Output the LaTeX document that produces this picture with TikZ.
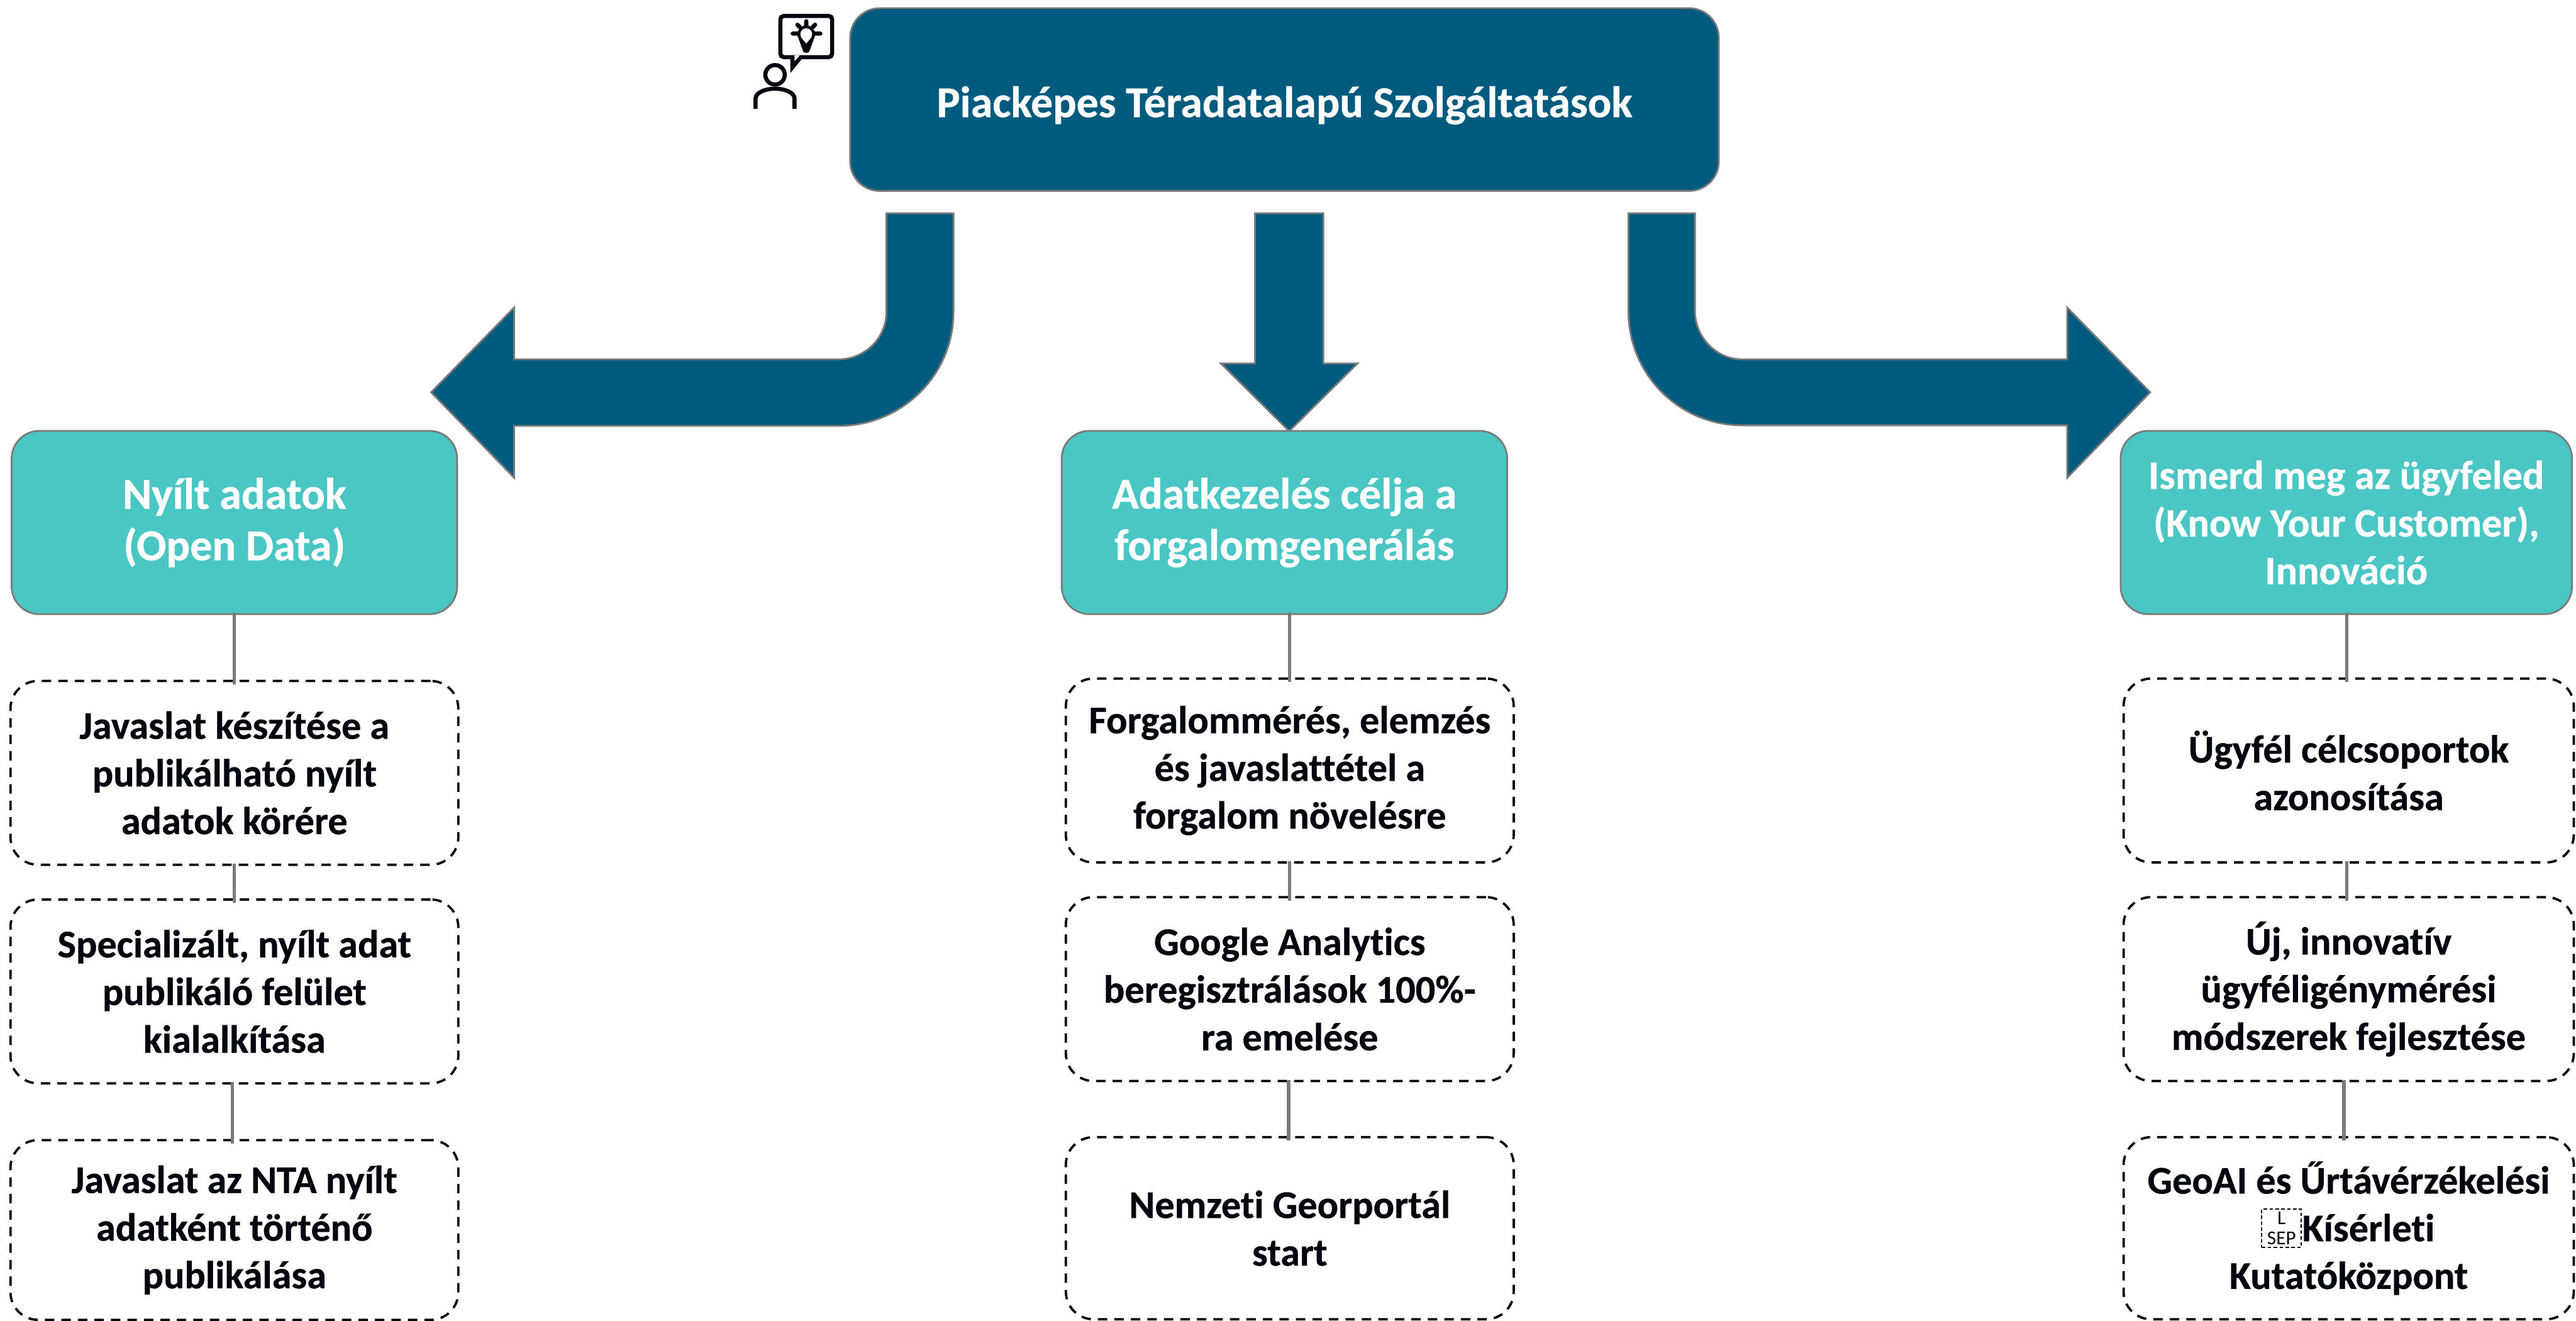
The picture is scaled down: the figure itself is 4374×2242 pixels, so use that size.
\documentclass[tikz,border=0pt]{standalone}
\usepackage{fontspec}
\setmainfont{Carlito}[Ligatures=NoCommon,BoldFeatures={FakeBold=0.6}]
\definecolor{deepblue}{HTML}{005B7F}
\definecolor{lagoon}{HTML}{4AC7C4}
\definecolor{edgegray}{HTML}{7A7A7A}
\definecolor{inkblack}{HTML}{02060F}
\tikzset{
  titlebox/.style={draw=edgegray,line width=0.03cm,fill=deepblue,text=white,rounded corners=0.5cm,
    minimum width=14.74cm,minimum height=3.1cm,inner sep=0pt,align=center,
    font=\fontsize{21.2pt}{25pt}\selectfont\bfseries,execute at begin node=\rule{0pt}{0.72cm}},
  goalbox/.style={draw=edgegray,line width=0.03cm,fill=lagoon,text=white,rounded corners=0.47cm,
    minimum width=7.56cm,minimum height=3.11cm,inner sep=0pt,align=center,
    font=\fontsize{21.3pt}{24.8pt}\selectfont\bfseries,execute at begin node=\rule{0pt}{0.75cm}},
  stepbox/.style={draw=inkblack,line width=0.04cm,dash pattern=on 0.16cm off 0.12cm,text=inkblack,
    rounded corners=0.47cm,minimum width=7.6cm,minimum height=3.12cm,inner sep=0pt,align=center,
    font=\fontsize{18.9pt}{23pt}\selectfont\bfseries,execute at begin node=\rule{0pt}{0.63cm}},
  link/.style={draw=edgegray,line width=0.055cm,shorten >=-0.08cm,shorten <=-0.04cm},
  bigarrow/.style={draw=edgegray,line width=0.03cm,fill=deepblue},
  icon/.style={draw=inkblack,line width=0.07cm}
}
\begin{document}
\begin{tikzpicture}[x=0.01cm,y=-0.01cm]
  \useasboundingbox (0,0) rectangle (4374,2242);

  \node[titlebox] (title) at (2181,169) {Piacképes Téradatalapú Szolgáltatások};

  % big arrows
  \path[bigarrow] (1505,362) -- (1505,530) .. controls (1505,574) and (1468,610) .. (1424,610)
    -- (873,610) -- (873,522) -- (732,666) -- (873,811) -- (873,723) -- (1424,723)
    .. controls (1532,723) and (1619,636) .. (1619,530) -- (1619,362) -- cycle;
  \path[bigarrow] (2131,362) -- (2131,617) -- (2073,617) -- (2189,732) -- (2305,617)
    -- (2247,617) -- (2247,362) -- cycle;
  \path[bigarrow] (2765,362) -- (2765,528) .. controls (2765,636) and (2851,722) .. (2958,722)
    -- (3510,722) -- (3510,811) -- (3651,666) -- (3510,522) -- (3510,610) -- (2958,610)
    .. controls (2914,610) and (2878,572) .. (2878,528) -- (2878,362) -- cycle;

  % left column
  \node[goalbox] (open) at (398,887) {Nyílt adatok\\(Open Data)};
  \node[stepbox] (openA) at (398,1312) {Javaslat készítése a\\publikálható nyílt\\adatok körére};
  \node[stepbox] (openB) at (398,1683) {Specializált, nyílt adat\\publikáló felület\\kialalkítása};
  \node[stepbox,minimum height=3.05cm] (openC) at (398,2088) {Javaslat az NTA nyílt\\adatként történő\\publikálása};

  % middle column
  \node[goalbox] (traffic) at (2181,887) {Adatkezelés célja a\\forgalomgenerálás};
  \node[stepbox] (trafficA) at (2190,1308) {Forgalommérés, elemzés\\és javaslattétel a\\forgalom növelésre};
  \node[stepbox] (trafficB) at (2190,1679) {Google Analytics\\beregisztrálások 100\%-\\ra emelése};
  \node[stepbox,minimum height=3.09cm] (trafficC) at (2190,2085) {Nemzeti Georportál\\start};

  % right column
  \node[goalbox,minimum width=7.66cm,font=\fontsize{19.5pt}{23pt}\selectfont\bfseries,execute at begin node={}] (client) at (3984,887)
    {Ismerd meg az ügyfeled\\(Know Your Customer),\\Innováció};
  \node[stepbox,minimum width=7.64cm] (clientA) at (3988,1308) {Ügyfél célcsoportok\\azonosítása};
  \node[stepbox,minimum width=7.64cm] (clientB) at (3988,1679) {Új, innovatív\\ügyféligénymérési\\módszerek fejlesztése};
  \node[stepbox,minimum width=7.64cm,minimum height=3.09cm] (clientC) at (3988,2085)
    {GeoAI és Űrtávérzékelési\\\hspace*{0.67cm}Kísérleti\\Kutatóközpont};
  \node[draw=inkblack,line width=0.02cm,dash pattern=on 0.06cm off 0.04cm,minimum width=0.67cm,
    minimum height=0.65cm,inner sep=0pt,align=center,text=inkblack,
    font=\fontsize{9.5pt}{9.5pt}\selectfont] (sepmark) at (3874,2085) {L\\SEP};

  % thin links
  \draw[link] (open.south) -- (openA.north);
  \draw[link] (openA.south) -- (openB.north);
  \draw[link] ([xshift=-0.03cm]openB.south) -- ([xshift=-0.03cm]openC.north);
  \draw[link] (trafficA.north |- traffic.south) -- (trafficA.north);
  \draw[link] (trafficA.south) -- (trafficB.north);
  \draw[link] ([xshift=-0.02cm]trafficB.south) -- ([xshift=-0.02cm]trafficC.north);
  \draw[link] ([xshift=-0.03cm]clientA.north |- client.south) -- ([xshift=-0.03cm]clientA.north);
  \draw[link] ([xshift=-0.03cm]clientA.south) -- ([xshift=-0.03cm]clientB.north);
  \draw[link] ([xshift=-0.08cm]clientB.south) -- ([xshift=-0.08cm]clientC.north);

  % person with idea
  \draw[icon,rounded corners=0.06cm] (1325,27) rectangle (1413,97);
  \fill[inkblack] (1342,97) -- (1342,124) -- (1364,97) -- cycle;
  \fill[white] (1349,94) -- (1349,104) -- (1358,94) -- cycle;
  \draw[icon] (1316,127) circle (16.5);
  \draw[icon] (1283,185) -- (1283,167) .. controls (1283,157) and (1300,150.5) .. (1316,150.5)
    .. controls (1332,150.5) and (1349,157) .. (1349,167) -- (1349,185);
  \fill[inkblack] (1369,58) circle (15);
  \fill[inkblack] (1355,63) -- (1364,88) -- (1369,90) -- (1374,88) -- (1383,63) -- cycle;
  \fill[white] (1369,58) circle (10);
  \fill[white] (1360,63) -- (1369,74) -- (1378,63) -- cycle;
  \draw[icon,line cap=round] (1346,57) -- (1354,57) (1384,57) -- (1393,57) (1369,36) -- (1369,43)
    (1354,42) -- (1358,46) (1384,42) -- (1380,46);
\end{tikzpicture}
\end{document}
